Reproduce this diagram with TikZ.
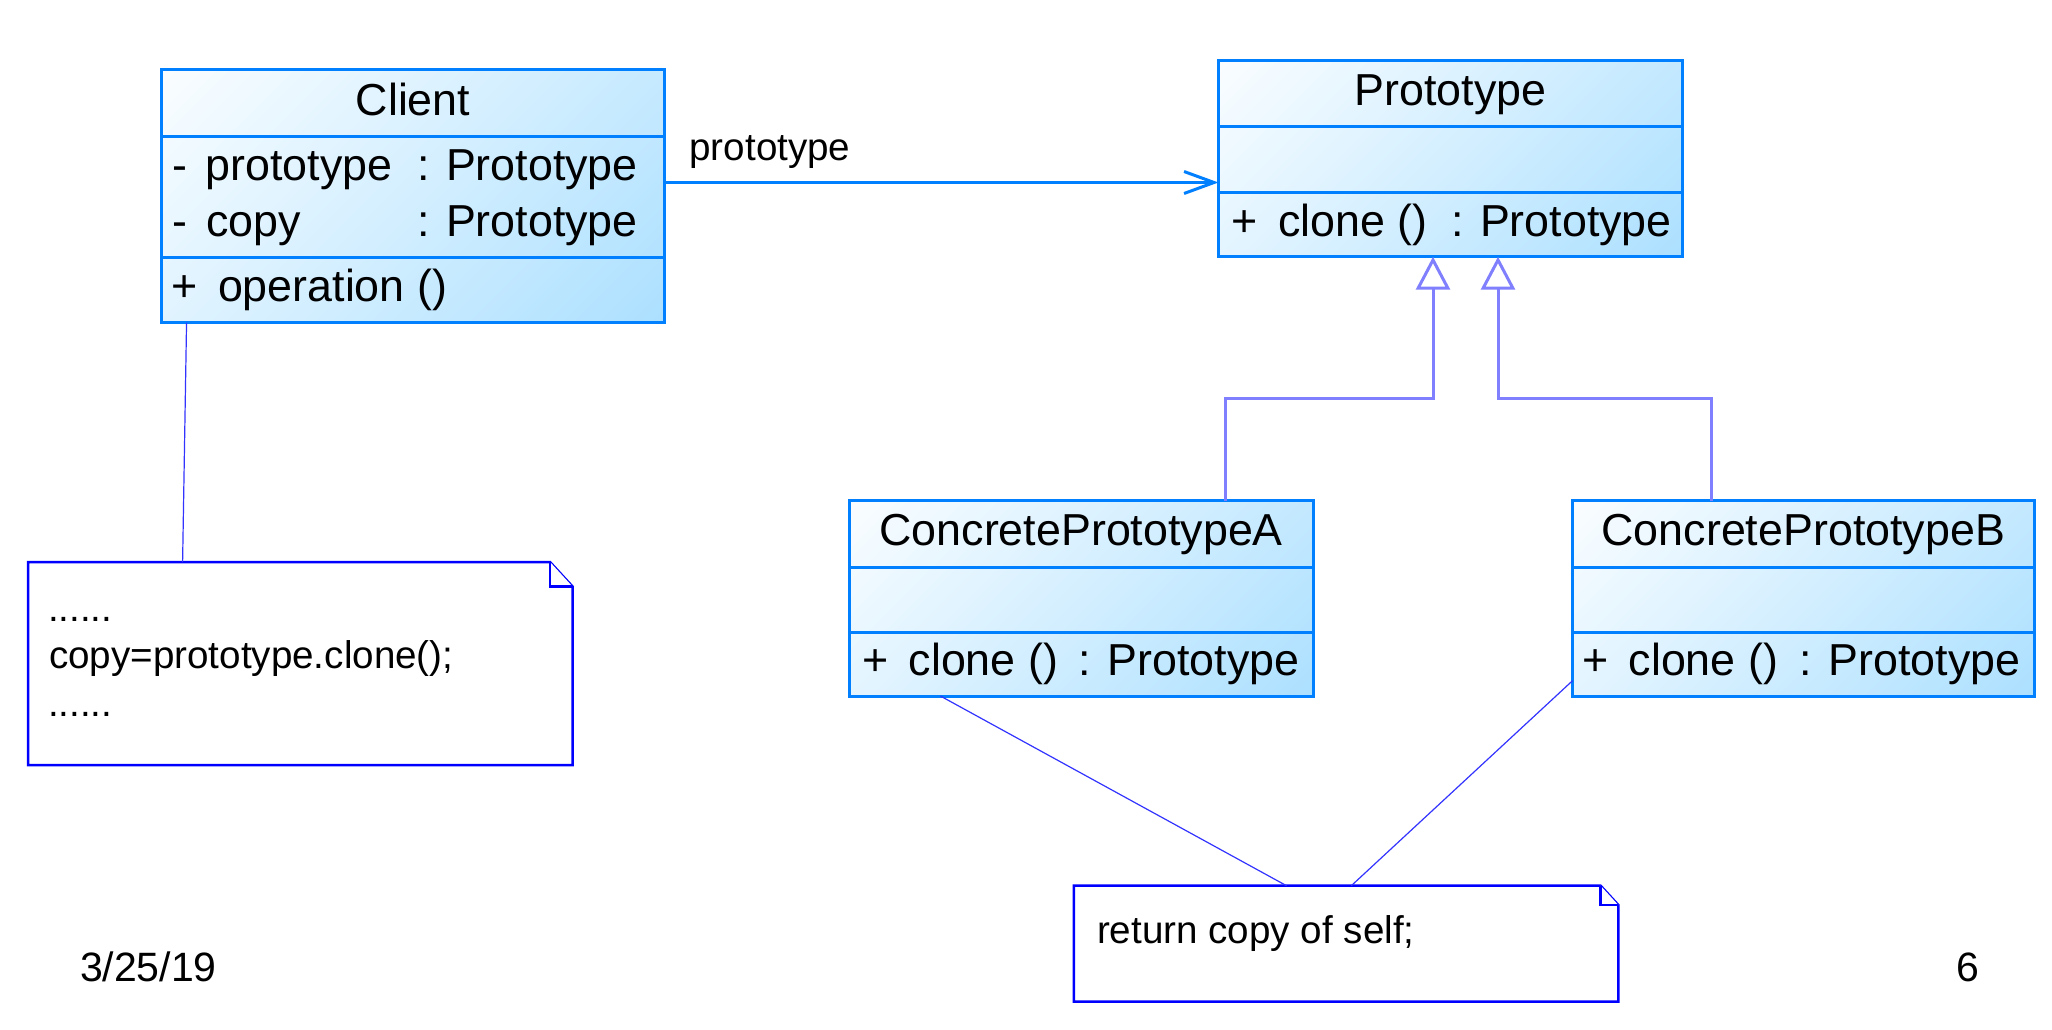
\documentclass[tikz,border=0pt]{standalone}
\usepackage{fontspec}
\setmainfont{Liberation Sans}
\usetikzlibrary{arrows.meta,calc}
\definecolor{clsborder}{RGB}{0,128,255}
\definecolor{clslight}{RGB}{250,253,255}
\definecolor{clsdark}{RGB}{172,224,255}
\definecolor{noteblue}{RGB}{0,0,255}
\definecolor{genline}{RGB}{128,128,255}
\definecolor{connline}{RGB}{51,51,255}
\newcommand\clsfont{\fontsize{44.8}{50}\selectfont}
\newcommand\notefont{\fontsize{38.6}{44}\selectfont}
\newcommand\footfont{\fontsize{41}{46}\selectfont}
% true 45-degree diagonal gradient clipped to a box: centre x, centre y, width, height
\newcommand\ClsShade[4]{%
  \begin{scope}
    \clip (#1-#3/2,#2-#4/2) rectangle (#1+#3/2,#2+#4/2);
    \pgfmathsetmacro\ClsSq{(#3+#4)/sqrt(2)}
    \shade[top color=clslight, bottom color=clsdark, shading angle=45]
      (#1-\ClsSq/2,#2-\ClsSq/2) rectangle (#1+\ClsSq/2,#2+\ClsSq/2);
  \end{scope}}
\tikzset{
  classbox/.style={draw=clsborder, line width=3pt, inner sep=0pt, outer sep=0pt},
  clsdiv/.style={draw=clsborder, line width=3pt},
  ttl/.style={anchor=base, inner sep=0pt, outer sep=0pt, font=\clsfont},
  txt/.style={anchor=base west, inner sep=0pt, outer sep=0pt, font=\clsfont},
  ntxt/.style={anchor=base west, inner sep=0pt, outer sep=0pt, font=\notefont},
  ftxt/.style={anchor=base west, inner sep=0pt, outer sep=0pt, font=\footfont},
  notebox/.style={inner sep=0pt, outer sep=0pt},
  noteline/.style={draw=noteblue, line width=2.5pt, line join=miter, fill=white},
  assoc/.style={draw=clsborder, line width=3pt, -{Straight Barb[length=30pt,width=22pt]}},
  gen/.style={draw=genline, line width=3pt, -{Triangle[open,length=33pt,width=34pt]}},
  noteconn/.style={draw=connline, line width=1.2pt},
}
\begin{document}
\begin{tikzpicture}[x=1pt,y=-1pt]
\fill[white] (0,0) rectangle (2052,1030);
\useasboundingbox (0,0) rectangle (2052,1030);

% gradients
\ClsShade{413}{196.35}{502.7}{252.7}
\ClsShade{1450.4}{158.85}{464}{195.7}
\ClsShade{1081.15}{598.25}{464.3}{195.5}
\ClsShade{1803.25}{598.5}{461.5}{196}

% class boxes
\node[classbox, minimum width=502.7pt, minimum height=252.7pt] (client) at (413,196.35) {};
\draw[clsdiv] ([yshift=-66.7pt]client.north west) -- ([yshift=-66.7pt]client.north east);
\draw[clsdiv] ([yshift=-187.7pt]client.north west) -- ([yshift=-187.7pt]client.north east);

\node[classbox, minimum width=464pt, minimum height=195.7pt] (proto) at (1450.4,158.85) {};
\draw[clsdiv] ([yshift=-65.7pt]proto.north west) -- ([yshift=-65.7pt]proto.north east);
\draw[clsdiv] ([yshift=-131.3pt]proto.north west) -- ([yshift=-131.3pt]proto.north east);

\node[classbox, minimum width=464.3pt, minimum height=195.5pt] (concA) at (1081.15,598.25) {};
\draw[clsdiv] ([yshift=-66.5pt]concA.north west) -- ([yshift=-66.5pt]concA.north east);
\draw[clsdiv] ([yshift=-132pt]concA.north west) -- ([yshift=-132pt]concA.north east);

\node[classbox, minimum width=461.5pt, minimum height=196pt] (concB) at (1803.25,598.5) {};
\draw[clsdiv] ([yshift=-66.5pt]concB.north west) -- ([yshift=-66.5pt]concB.north east);
\draw[clsdiv] ([yshift=-132pt]concB.north west) -- ([yshift=-132pt]concB.north east);

% class texts
\node[ttl] (clientT) at (413,116) {Client};
\node[txt] (c1a) at (172,180) {-};
\node[txt] (c1b) at (205.5,180) {prototype};
\node[txt] (c1c) at (417,180) {: Prototype};
\node[txt] (c2a) at (172,236) {-};
\node[txt] (c2b) at (206,236) {copy};
\node[txt] (c2c) at (417,236) {: Prototype};
\node[txt] (c3a) at (171,301.7) {+};
\node[txt] (c3b) at (218,301.7) {operation ()};

\node[ttl] (protoT) at (1450.4,106) {Prototype};
\node[txt] (p1a) at (1231,236.7) {+};
\node[txt] (p1b) at (1278,236.7) {clone ()};
\node[txt] (p1c) at (1451,236.7) {: Prototype};

\node[ttl] (aT) at (1081.15,545) {ConcretePrototypeA};
\node[txt] (a1a) at (862,675) {+};
\node[txt] (a1b) at (908.7,675) {clone ()};
\node[txt] (a1c) at (1078.5,675) {: Prototype};

\node[ttl] (bT) at (1803.25,545.5) {ConcretePrototypeB};
\node[txt] (b1a) at (1582,675.5) {+};
\node[txt] (b1b) at (1628.7,675.5) {clone ()};
\node[txt] (b1c) at (1799.5,675.5) {: Prototype};

% association
\coordinate (as) at ([yshift=13.85pt]client.east);
\draw[assoc] (as) -- (proto.west |- as);
\node[ntxt] (lbl) at (689.5,160.7) {prototype};

% generalizations
\coordinate (gA) at (1225,398.3);
\coordinate (gAt) at (1433,398.3);
\coordinate (gB) at (1711.2,398.3);
\coordinate (gBt) at (1498,398.3);
\draw[gen] (concA.north -| gA) -- (gA) -- (gAt) -- (proto.south -| gAt);
\draw[gen] (concB.north -| gB) -- (gB) -- (gBt) -- (proto.south -| gBt);

% notes
\node[notebox, minimum width=544.5pt, minimum height=203pt] (note1) at (300.25,663.5) {};
\draw[noteline] (note1.north west) -- ($(note1.north east)+(-22.5,0)$) -- ($(note1.north east)+(0,24.5)$) -- (note1.south east) -- (note1.south west) -- cycle;
\draw[noteline] ($(note1.north east)+(-22.5,0)$) -- ($(note1.north east)+(-22.5,24.5)$) -- ($(note1.north east)+(0,24.5)$);
\node[ntxt] (n1a) at (48,621) {......};
\node[ntxt] (n1b) at (49,668.3) {copy=prototype.clone();};
\node[ntxt] (n1c) at (48,716) {......};

\node[notebox, minimum width=544.5pt, minimum height=116pt] (note2) at (1346.05,943.7) {};
\draw[noteline] (note2.north west) -- ($(note2.north east)+(-17.7,0)$) -- ($(note2.north east)+(0,19.3)$) -- (note2.south east) -- (note2.south west) -- cycle;
\draw[noteline] ($(note2.north east)+(-17.7,0)$) -- ($(note2.north east)+(-17.7,19.3)$) -- ($(note2.north east)+(0,19.3)$);
\node[ntxt] (n2a) at (1097,943) {return copy of self;};

% note connectors
\draw[noteconn] ([xshift=24.9pt]client.south west) -- ([xshift=154.6pt]note1.north west);
\draw[noteconn] ([xshift=91.4pt]concA.south west) -- ([xshift=212.7pt]note2.north west);
\draw[noteconn] ([yshift=15.8pt]concB.south west) -- ([xshift=277.5pt]note2.north west);

% footer
\node[ftxt] (date) at (80,981.7) {3/25/19};
\node[ftxt] (page) at (1956,981.7) {6};
\end{tikzpicture}
\end{document}
